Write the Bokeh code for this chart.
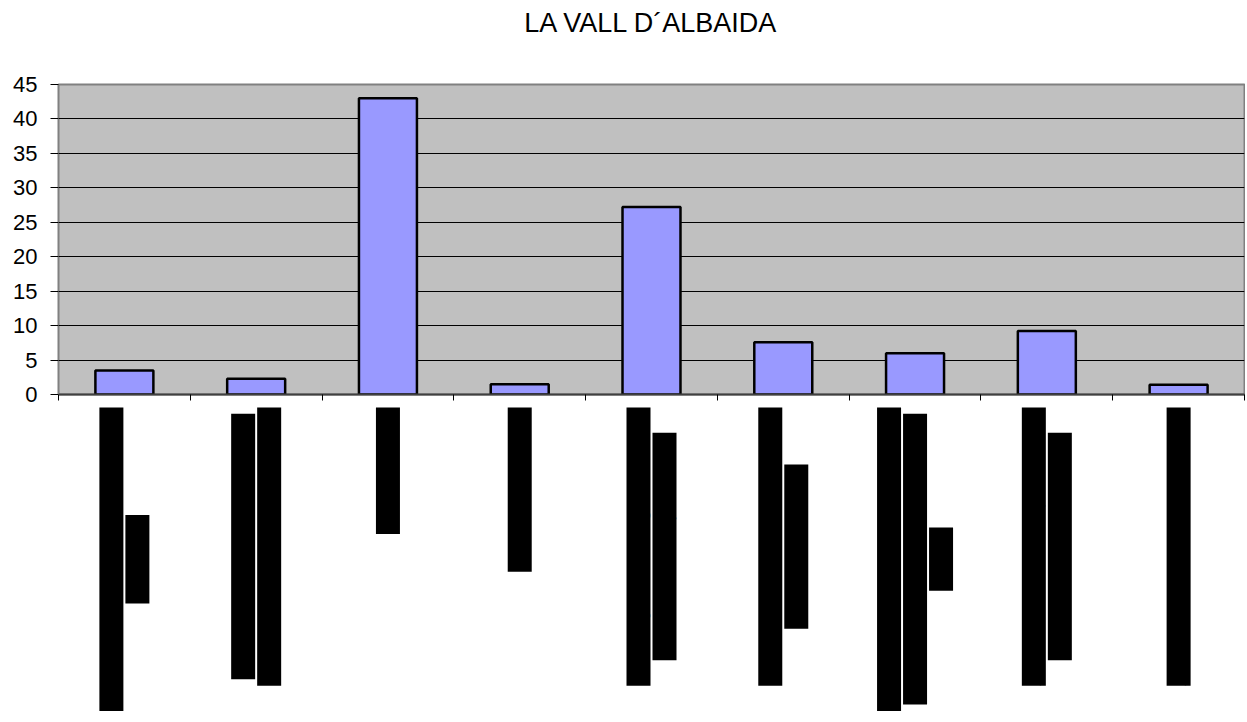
import math
from bokeh.plotting import figure
from bokeh.layouts import column
from bokeh.models import Range1d, FixedTicker, ColumnDataSource
from bokeh.embed import file_html
from bokeh.resources import INLINE
from bokeh.core.properties import value

# ---- data ----
chart_title = "LA VALL D´ALBAIDA"
category_labels = [
    ["Agricultura i ramaderia,", "i pesca"],
    ["Energia, aigua, gas i", "indústries extractives"],
    ["Indústries"],
    ["Construccions"],
    ["Comerç a l'engròs i al", "detall i reparació"],
    ["Hostaleria i transport", "i comunicació"],
    ["Intermediació financera,", "immobiliàries i serveis", "varis"],
    ["Administració pública,", "educació i sanitat"],
    ["Altres serveis socials"],
]
values = [3.5, 2.3, 43.0, 1.5, 27.2, 7.6, 6.0, 9.2, 1.4]
y_ticks = [0, 5, 10, 15, 20, 25, 30, 35, 40, 45]

# ---- layout constants ----
W = 1245
H0 = 70     # title strip
H1 = 336    # chart
H2 = 308    # category labels
FONT = "Liberation Sans"
LBL_FONT_PX = 21
CHAR_W = 0.6021 * LBL_FONT_PX   # DejaVu Sans Mono advance
LINE_STEP = 26
TOP_GAP = 1
TITLE_BASELINE = 22

n = len(values)
xc = [i + 0.5 for i in range(n)]
xr = Range1d(0, n)


def strip(height):
    f = figure(width=W, height=height, x_range=xr, y_range=Range1d(height, 0),
               output_backend="svg", toolbar_location=None,
               x_axis_location=None, y_axis_location=None,
               min_border_left=58, min_border_right=1, min_border_top=0,
               min_border_bottom=0)
    f.grid.visible = False
    f.outline_line_color = None
    f.background_fill_color = "white"
    f.border_fill_color = "white"
    return f


# ---- title strip ----
t = strip(H0)
t.text(x=[n / 2], y=[TITLE_BASELINE], text=[chart_title],
       text_align="center", text_baseline="alphabetic",
       text_font=value(FONT), text_font_size="27px", text_color="black")

# ---- main chart ----
p = figure(width=W, height=H1, x_range=xr, y_range=Range1d(0, 45),
           output_backend="svg", toolbar_location=None,
           min_border_left=58, min_border_right=1, min_border_top=14,
           min_border_bottom=12)
p.background_fill_color = "#C0C0C0"
p.border_fill_color = "white"
p.outline_line_color = "#808080"
p.outline_line_width = 2

p.vbar(x=xc, top=values, width=0.44, bottom=0,
       fill_color="#9999FF", line_color="black", line_width=2.5)

p.yaxis.ticker = FixedTicker(ticks=y_ticks)
p.yaxis.major_label_text_font = FONT
p.yaxis.major_label_text_font_size = "22px"
p.yaxis.major_label_text_color = "black"
p.yaxis.major_tick_out = 8
p.yaxis.major_tick_in = 0
p.yaxis.minor_tick_line_color = None
p.yaxis.major_tick_line_color = "black"
p.yaxis.axis_line_color = "#808080"
p.yaxis.major_label_standoff = 13

p.xaxis.ticker = FixedTicker(ticks=list(range(n + 1)))
p.xaxis.major_label_text_color = None
p.xaxis.major_label_text_font_size = "2px"
p.xaxis.major_label_standoff = 0
p.xaxis.major_tick_out = 6
p.xaxis.major_tick_in = 0
p.xaxis.minor_tick_line_color = None
p.xaxis.major_tick_line_color = "black"
p.xaxis.axis_line_color = "#404040"
p.xaxis.axis_line_width = 2

p.xgrid.visible = False
p.ygrid.ticker = FixedTicker(ticks=y_ticks[1:-1])
p.ygrid.grid_line_color = "black"
p.ygrid.grid_line_width = 1

# ---- category labels (rotated, drawn as black blocks) ----
lx, ly, ldx, ltxt = [], [], [], []
for i, lines in enumerate(category_labels):
    maxlen = max(len(s) for s in lines) * CHAR_W
    k = len(lines)
    for j, s in enumerate(lines):
        lx.append(xc[i])
        ly.append(TOP_GAP + maxlen / 2)
        ldx.append((j - (k - 1) / 2) * LINE_STEP)
        ltxt.append(s)
src = ColumnDataSource(dict(x=lx, y=ly, dx=ldx, text=ltxt))

q = strip(H2)
q.text(x="x", y="y", text="text", x_offset="dx", source=src,
       angle=math.pi / 2, text_align="center", text_baseline="middle",
       text_color="black", text_font=value("DejaVu Sans Mono"),
       text_font_size=f"{LBL_FONT_PX}px", background_fill_color="black")

layout = column(t, p, q, spacing=0)
open("out.html", "w").write(file_html(layout, INLINE))
